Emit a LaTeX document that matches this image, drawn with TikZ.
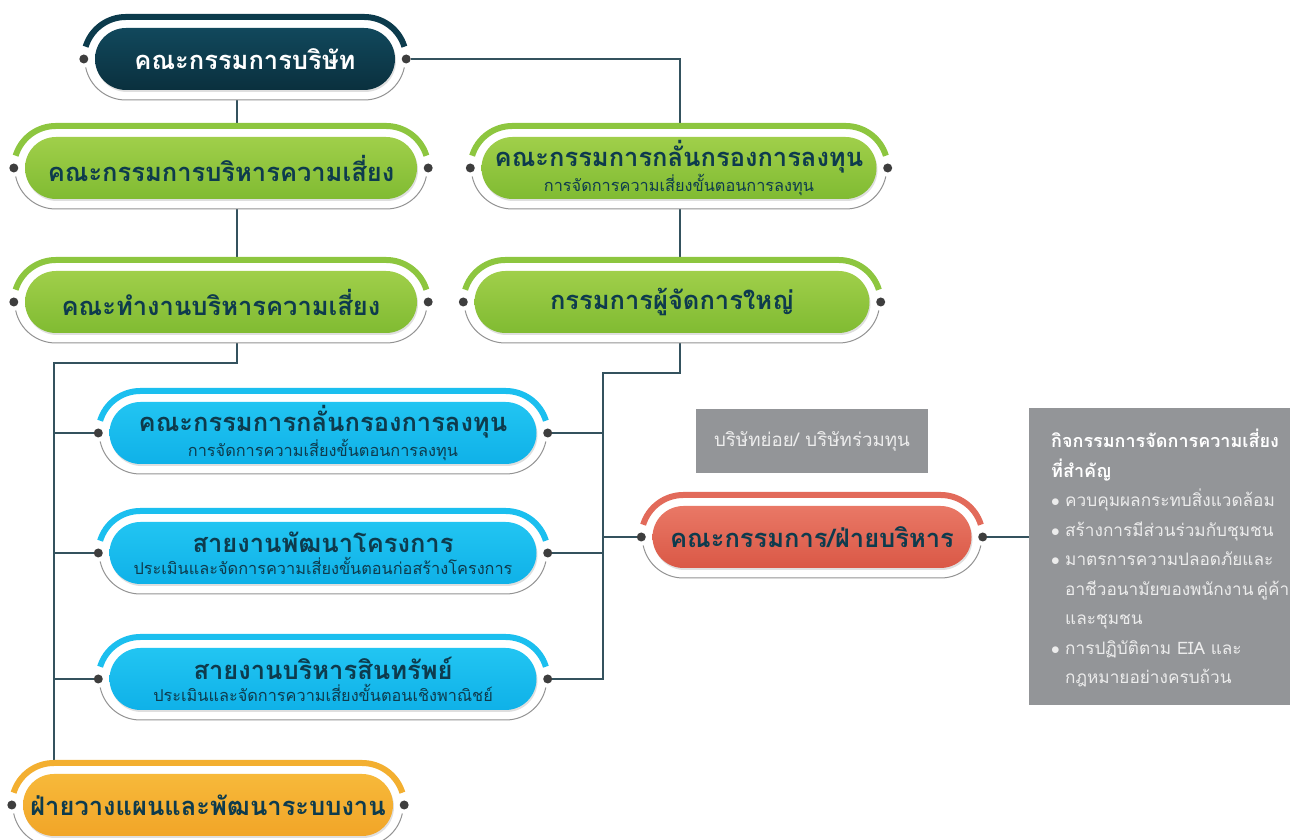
\documentclass[tikz,border=0pt]{standalone}
\usepackage{fontspec}
\setmainfont[Script=Thai]{Loma}
\usetikzlibrary{positioning,calc,backgrounds,shadows}
\definecolor{BoardTeal}{RGB}{12,59,76}
\definecolor{BoardTop}{RGB}{17,72,92}
\definecolor{BoardBot}{RGB}{10,48,62}
\definecolor{LeafGreen}{RGB}{141,198,63}
\definecolor{LeafTop}{RGB}{160,207,74}
\definecolor{LeafBot}{RGB}{128,187,50}
\definecolor{SkyBlue}{RGB}{27,191,239}
\definecolor{SkyTop}{RGB}{34,197,242}
\definecolor{SkyBot}{RGB}{15,177,232}
\definecolor{CoralRed}{RGB}{226,106,90}
\definecolor{CoralTop}{RGB}{233,120,102}
\definecolor{CoralBot}{RGB}{218,88,70}
\definecolor{AmberOrange}{RGB}{243,175,48}
\definecolor{AmberTop}{RGB}{247,185,58}
\definecolor{AmberBot}{RGB}{241,165,40}
\definecolor{InkTeal}{RGB}{14,59,77}
\definecolor{LinkTeal}{RGB}{52,82,94}
\definecolor{NoteGrey}{RGB}{147,149,152}
\definecolor{NoteInk}{RGB}{236,236,236}
\definecolor{DotGrey}{RGB}{62,62,62}
\newcommand\pilltitle{\fontsize{25.5}{27}\selectfont\bfseries}
\newcommand\pillsub{\fontsize{16.3}{18}\selectfont}
\newcommand\notehead{\fontsize{18}{20}\selectfont\bfseries\color{white}}
\newcommand\blt{\makebox[14pt][l]{$\bullet$}}
\tikzset{
  flow/.style={draw=LinkTeal,line width=1.3pt},
  pill/.style={rounded corners=31pt,minimum height=62pt,inner sep=0pt,
    align=center,text=InkTeal,font=\fontsize{15}{22}\selectfont,
    preaction={draw=white,line width=20pt},
    drop shadow={opacity=0.25,shadow xshift=1pt,shadow yshift=-2pt}},
  boardpill/.style={pill,top color=BoardTop,bottom color=BoardBot,text=white},
  greenpill/.style={pill,top color=LeafTop,bottom color=LeafBot},
  bluepill/.style={pill,top color=SkyTop,bottom color=SkyBot},
  redpill/.style={pill,top color=CoralTop,bottom color=CoralBot},
  orangepill/.style={pill,top color=AmberTop,bottom color=AmberBot},
  ringtop/.style={line width=6pt},
  ringbot/.style={draw=gray!85,line width=1pt},
  dot/.style={circle,fill=DotGrey,inner sep=0pt,minimum size=9pt},
  notebox/.style={fill=NoteGrey,inner sep=0pt},
  notetext/.style={text=NoteInk,align=left,inner sep=0pt,
    font=\fontsize{17.2}{29.5}\selectfont}
}
\begin{document}
\begin{tikzpicture}[x=1pt,y=1pt]
  \useasboundingbox (0,0) rectangle (1290,840);
  % board and committees
  \node[boardpill,minimum width=300pt] (board) at (245,781) {\pilltitle คณะกรรมการบริษัท};
  \node[greenpill,minimum width=392pt] (risk) at (221,672) {\pilltitle คณะกรรมการบริหารความเสี่ยง};
  \node[greenpill,minimum width=395pt] (invest) at (679,672) {
    \pilltitle คณะกรรมการกลั่นกรองการลงทุน\\[0pt]
    \pillsub การจัดการความเสี่ยงขั้นตอนการลงทุน};
  \node[greenpill,minimum width=392pt] (work) at (221,538) {\pilltitle คณะทำงานบริหารความเสี่ยง};
  \node[greenpill,minimum width=395pt] (ceo) at (672,538) {\pilltitle กรรมการผู้จัดการใหญ่};
  % business units
  \node[bluepill,minimum width=427pt] (screen) at (323,407) {
    \pilltitle คณะกรรมการกลั่นกรองการลงทุน\\[0pt]
    \pillsub การจัดการความเสี่ยงขั้นตอนการลงทุน};
  \node[bluepill,minimum width=427pt] (project) at (323,287) {
    \pilltitle สายงานพัฒนาโครงการ\\[0pt]
    \pillsub ประเมินและจัดการความเสี่ยงขั้นตอนก่อสร้างโครงการ};
  \node[bluepill,minimum width=427pt] (asset) at (323,161) {
    \pilltitle สายงานบริหารสินทรัพย์\\[0pt]
    \pillsub ประเมินและจัดการความเสี่ยงขั้นตอนเชิงพาณิชย์};
  \node[redpill,minimum width=319pt] (execs) at (812,303) {\pilltitle คณะกรรมการ/ฝ่ายบริหาร};
  \node[orangepill,minimum width=370pt] (plan) at (208,35) {\pilltitle ฝ่ายวางแผนและพัฒนาระบบงาน};
  % grey notes
  \node[notebox,minimum width=232pt,minimum height=64pt,text=NoteInk,
    font=\fontsize{18.7}{20}\selectfont] (subsid) at (812,399) {บริษัทย่อย/ บริษัทร่วมทุน};
  \node[notebox,anchor=north west,minimum width=261pt,minimum height=297pt] (keyrisk) at (1029,432) {};
  \node[notetext,anchor=north west] (keyrisk-text) at ([xshift=22pt,yshift=-21pt]keyrisk.north west) {
    \notehead กิจกรรมการจัดการความเสี่ยง\\
    \notehead ที่สำคัญ\\
    \blt ควบคุมผลกระทบสิ่งแวดล้อม\\
    \blt สร้างการมีส่วนร่วมกับชุมชน\\
    \blt มาตรการความปลอดภัยและ\\
    \hspace*{14pt}อาชีวอนามัยของพนักงาน\hspace{3pt}คู่ค้า\\
    \hspace*{14pt}และชุมชน\\
    \blt การปฏิบัติตาม EIA และ\\
    \hspace*{14pt}กฎหมายอย่างครบถ้วน};
  % rings and dots round every pill
  \foreach \n/\c in {board/BoardTeal,risk/LeafGreen,invest/LeafGreen,work/LeafGreen,
      ceo/LeafGreen,screen/SkyBlue,project/SkyBlue,asset/SkyBlue,execs/CoralRed,plan/AmberOrange}{
    \draw[ringtop,draw=\c] ($(\n.west)+(31pt,0)$) ++(163:42pt) arc[start angle=163,end angle=90,radius=42pt]
      -- ($(\n.east)+(-31pt,42pt)$) arc[start angle=90,end angle=17,radius=42pt];
    \draw[ringbot] ($(\n.west)+(31pt,0)$) ++(192:41pt) arc[start angle=192,end angle=270,radius=41pt]
      -- ($(\n.east)+(-31pt,-41pt)$) arc[start angle=270,end angle=348,radius=41pt];
    \node[dot] (\n-l) at ($(\n.west)+(-11pt,0)$) {};
    \node[dot] (\n-r) at ($(\n.east)+(11pt,0)$) {};
  }
  \coordinate (leftspine) at (237,0);
  \coordinate (rightspine) at (680,0);
  \coordinate (leftbus) at (54,477);
  \coordinate (rightbus) at (603,467);
  % connectors
  \begin{scope}[on background layer]
    \draw[flow] (board-r) -| (invest.north -| rightspine);
    \draw[flow] (invest.south -| rightspine) -- (ceo.north -| rightspine);
    \draw[flow] (ceo.south -| rightspine) |- (rightbus) |- (asset-r);
    \draw[flow] (screen-r) -- (screen-r -| rightbus);
    \draw[flow] (project-r) -- (project-r -| rightbus);
    \draw[flow] (execs-l) -- (execs-l -| rightbus);
    \draw[flow] (execs-r) -- (execs-r -| keyrisk.west);
    \draw[flow] (board.south -| leftspine) -- (risk.north -| leftspine);
    \draw[flow] (risk.south -| leftspine) -- (work.north -| leftspine);
    \draw[flow] (work.south -| leftspine) |- (leftbus) -- (leftbus |- plan.north);
    \draw[flow] (screen-l) -- (screen-l -| leftbus);
    \draw[flow] (project-l) -- (project-l -| leftbus);
    \draw[flow] (asset-l) -- (asset-l -| leftbus);
  \end{scope}
\end{tikzpicture}
\end{document}
